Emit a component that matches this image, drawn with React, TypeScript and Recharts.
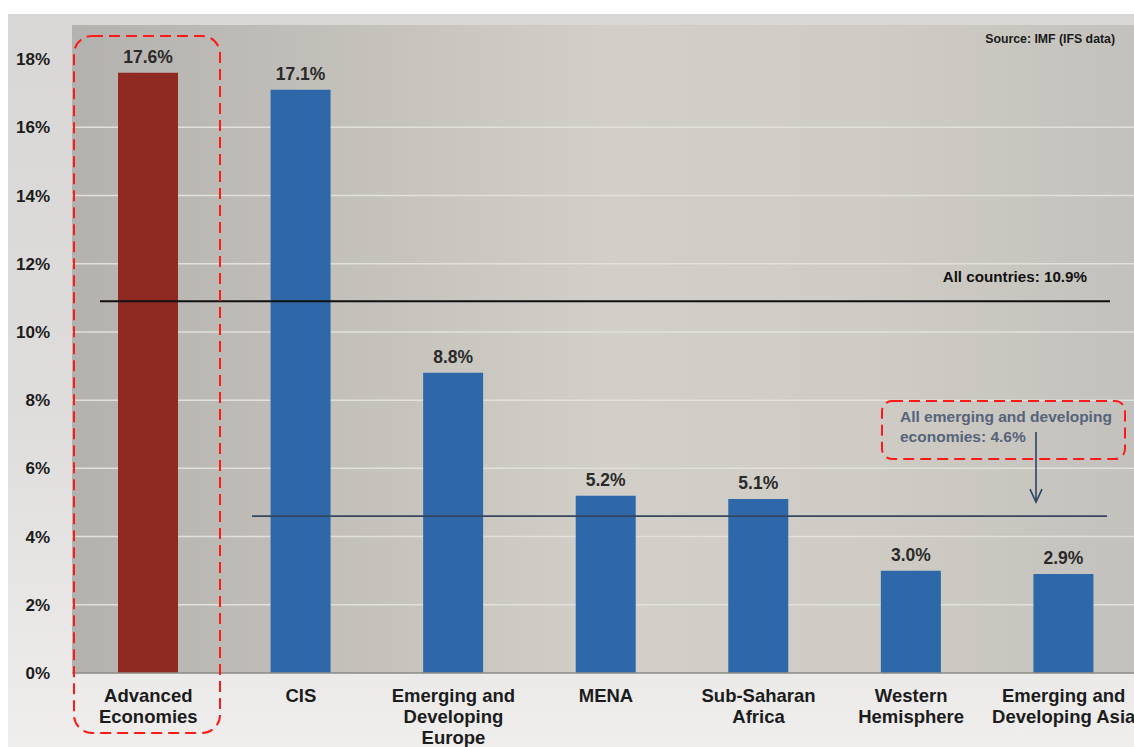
import React from "react";
import { BarChart, Bar, XAxis, YAxis, CartesianGrid, ReferenceLine, LabelList, Cell } from "recharts";

const categories = [
  "Advanced Economies",
  "CIS",
  "Emerging and Developing Europe",
  "MENA",
  "Sub-Saharan Africa",
  "Western Hemisphere",
  "Emerging and Developing Asia",
];
const tickLabelLines = [
  ["Advanced", "Economies"],
  ["CIS"],
  ["Emerging and", "Developing", "Europe"],
  ["MENA"],
  ["Sub-Saharan", "Africa"],
  ["Western", "Hemisphere"],
  ["Emerging and", "Developing Asia"],
];
const shares = [17.6, 17.1, 8.8, 5.2, 5.1, 3.0, 2.9];
const yTicks = [0, 2, 4, 6, 8, 10, 12, 14, 16, 18];
const gridValues = [2, 4, 6, 8, 10, 12, 14, 16];
const allCountries = 10.9;
const allEmerging = 4.6;
const sourceText = "Source: IMF (IFS data)";

const RED = "#8e2a21";
const BLUE = "#2f68a8";
const FONT = '"Liberation Sans", Arial, sans-serif';

const XTick = (props: any) => {
  const { x, y, payload } = props;
  const lines = tickLabelLines[payload.index] || [payload.value];
  return (
    <text x={x} y={y} textAnchor="middle" fontFamily={FONT} fontSize={18.5} fontWeight={700} fill="#1c1c1c">
      {lines.map((l: string, i: number) => (
        <tspan key={i} x={x} dy={i === 0 ? 21 : 21}>
          {l}
        </tspan>
      ))}
    </text>
  );
};

const AllCountriesLine = (p: any) => (
  <g>
    <line x1={p.x1 + 28} x2={p.x2 - 30} y1={p.y1} y2={p.y2} stroke="#111" strokeWidth={2} />
    <text x={p.x2 - 53} y={p.y1 - 19} textAnchor="end" fontFamily={FONT} fontSize={15.2} fontWeight={700} fill="#111">
      {`All countries: ${allCountries}%`}
    </text>
  </g>
);

const EmergingLine = (p: any) => {
  const ax = p.x2 - 104;
  return (
    <g>
      <line x1={p.x1 + 180} x2={p.x2 - 33} y1={p.y1} y2={p.y2} stroke="#34475f" strokeWidth={1.8} />
      <text fontFamily={FONT} fontSize={15.5} fontWeight={700} fill="#56637a">
        <tspan x={p.x2 - 240} y={p.y1 - 94}>All emerging and developing</tspan>
        <tspan x={p.x2 - 240} y={p.y1 - 74}>{`economies: ${allEmerging}%`}</tspan>
      </text>
      <line x1={ax} x2={ax} y1={p.y1 - 84} y2={p.y1 - 14} stroke="#2f4563" strokeWidth={1.6} />
      <polyline
        points={`${ax - 6},${p.y1 - 27} ${ax},${p.y1 - 14} ${ax + 6},${p.y1 - 27}`}
        fill="none"
        stroke="#2f4563"
        strokeWidth={1.6}
      />
    </g>
  );
};

export default function App() {
  const data = categories.map((c, i) => ({ name: c, value: shares[i] }));
  return (
    <div
      style={{
        position: "absolute",
        left: 0,
        top: 0,
        width: 1134,
        height: 747,
        overflow: "hidden",
        background: "#ffffff",
        fontFamily: FONT,
      }}
    >
      <div
        style={{
          position: "absolute",
          left: 8,
          top: 14,
          width: 1126,
          height: 733,
          background: "linear-gradient(180deg, #d9d7d5 0%, #dfdddb 55%, #efeeed 100%)",
        }}
      />
      <div style={{ position: "absolute", left: 0, top: 0 }}>
        <BarChart width={1150} height={747} data={data} margin={{ top: 25, right: 10, left: 12, bottom: 0 }}>
          <defs>
            <linearGradient id="plotBg" x1="0" y1="0" x2="1" y2="0">
              <stop offset="0%" stopColor="#b4b2ae" />
              <stop offset="30%" stopColor="#c6c3bd" />
              <stop offset="50%" stopColor="#d2cfc8" />
              <stop offset="75%" stopColor="#cfccc5" />
              <stop offset="100%" stopColor="#c3c1bc" />
            </linearGradient>
          </defs>
          <CartesianGrid
            vertical={false}
            fill="url(#plotBg)"
            fillOpacity={1}
            stroke="#e2e0db"
            strokeWidth={1.5}
            horizontalValues={gridValues}
          />
          <XAxis
            dataKey="name"
            height={74}
            interval={0}
            tickLine={false}
            axisLine={{ stroke: "#8c8a86", strokeWidth: 1.5 }}
            tick={<XTick />}
          />
          <YAxis
            width={60}
            domain={[0, 19]}
            ticks={yTicks}
            axisLine={false}
            tickLine={false}
            tickMargin={16}
            tickFormatter={(v: number) => `${v}%`}
            tick={{ fontSize: 17, fontWeight: 700, fill: "#1c1c1c", fontFamily: FONT }}
          />
          <Bar dataKey="value" barSize={60} isAnimationActive={false}>
            {data.map((d, i) => (
              <Cell key={d.name} fill={i === 0 ? RED : BLUE} />
            ))}
            <LabelList
              dataKey="value"
              position="top"
              offset={10}
              formatter={(v: number) => `${Number(v).toFixed(1)}%`}
              style={{ fontSize: 17.5, fontWeight: 700, fill: "#2a2a2a", fontFamily: FONT }}
            />
          </Bar>
          <ReferenceLine y={allCountries} shape={AllCountriesLine} />
          <ReferenceLine y={allEmerging} shape={EmergingLine} />
        </BarChart>
      </div>
      <svg
        width={1134}
        height={747}
        style={{ position: "absolute", left: 0, top: 0, pointerEvents: "none" }}
      >
        <text x={1115} y={43} textAnchor="end" fontFamily={FONT} fontSize={12.3} fontWeight={700} fill="#1a1a1a">
          {sourceText}
        </text>
        <rect x={74} y={36} width={146} height={697} rx={18} fill="none" stroke="#ff1a1a" strokeWidth={2} strokeDasharray="11 6" />
        <rect x={882} y={401} width={243} height={58} rx={10} fill="none" stroke="#ff1a1a" strokeWidth={2} strokeDasharray="11 6" />
      </svg>
    </div>
  );
}
